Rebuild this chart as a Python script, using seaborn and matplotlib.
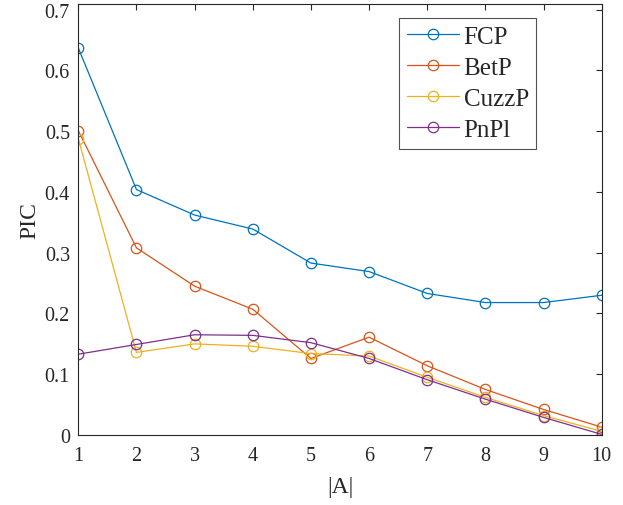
import matplotlib
matplotlib.use("Agg")
import matplotlib.pyplot as plt
import seaborn as sns
import pandas as pd

x_vals = [1, 2, 3, 4, 5, 6, 7, 8, 9, 10]
fcp = [0.637, 0.404, 0.362, 0.339, 0.283, 0.269, 0.233, 0.218, 0.218, 0.230]
betp = [0.501, 0.308, 0.245, 0.207, 0.126, 0.161, 0.114, 0.075, 0.042, 0.013]
cuzzp = [0.488, 0.136, 0.150, 0.146, 0.134, 0.130, 0.095, 0.062, 0.032, 0.006]
pnpl = [0.133, 0.149, 0.165, 0.164, 0.152, 0.126, 0.091, 0.059, 0.029, 0.001]
series_names = ["FCP", "BetP", "CuzzP", "PnPl"]
series_colors = ["#0072BD", "#D95319", "#EDB120", "#7E2F8E"]
y_ticks = [0, 0.1, 0.2, 0.3, 0.4, 0.5, 0.6, 0.7]
y_tick_labels = ["0", "0.1", "0.2", "0.3", "0.4", "0.5", "0.6", "0.7"]
x_label = "|A|"
y_label = "PIC"

sns.set_style("white")
plt.rcParams["font.family"] = ["Liberation Serif", "DejaVu Serif"]

frames = []
for name, vals in zip(series_names, [fcp, betp, cuzzp, pnpl]):
    frames.append(pd.DataFrame({"A": x_vals, "PIC": vals, "method": name}))
df = pd.concat(frames, ignore_index=True)

fig = plt.figure(figsize=(6.23, 5.06), dpi=100)
ax = fig.add_axes([78.3 / 623, 1 - 436 / 506, (601.7 - 78.3) / 623, (436 - 5) / 506])

for name, col in zip(series_names, series_colors):
    sub = df[df["method"] == name]
    sns.lineplot(data=sub, x="A", y="PIC", ax=ax, color=col, marker="o",
                 markersize=7.5, markerfacecolor="none", markeredgecolor=col,
                 markeredgewidth=0.9, linewidth=0.9, label=name)

ax.set_xlim(1, 10)
ax.set_ylim(0, 0.7094)
ax.set_xticks(x_vals)
ax.set_yticks(y_ticks)
ax.set_yticklabels(y_tick_labels)
ax.tick_params(direction="in", length=4, width=0.8, top=True, right=True,
               labelsize=14.5, colors="#262626")
ax.tick_params(axis="x", pad=8)
ax.tick_params(axis="y", pad=6)
for sp in ax.spines.values():
    sp.set_visible(True)
    sp.set_color("#262626")
    sp.set_linewidth(0.8)
ax.set_xlabel(x_label, fontsize=17, color="#262626", labelpad=8)
ax.set_ylabel(y_label, fontsize=17, color="#262626", labelpad=3)

leg = ax.legend(loc="upper left", bbox_to_anchor=((399 - 78.3) / 523.4, (436 - 19) / 431),
                fontsize=18, frameon=True, fancybox=False, edgecolor="#262626",
                handlelength=2.1, handletextpad=0.18, borderpad=0.3, labelspacing=0.34,
                borderaxespad=0)
leg.get_frame().set_linewidth(0.8)

fig.savefig("out.png", dpi=100)
